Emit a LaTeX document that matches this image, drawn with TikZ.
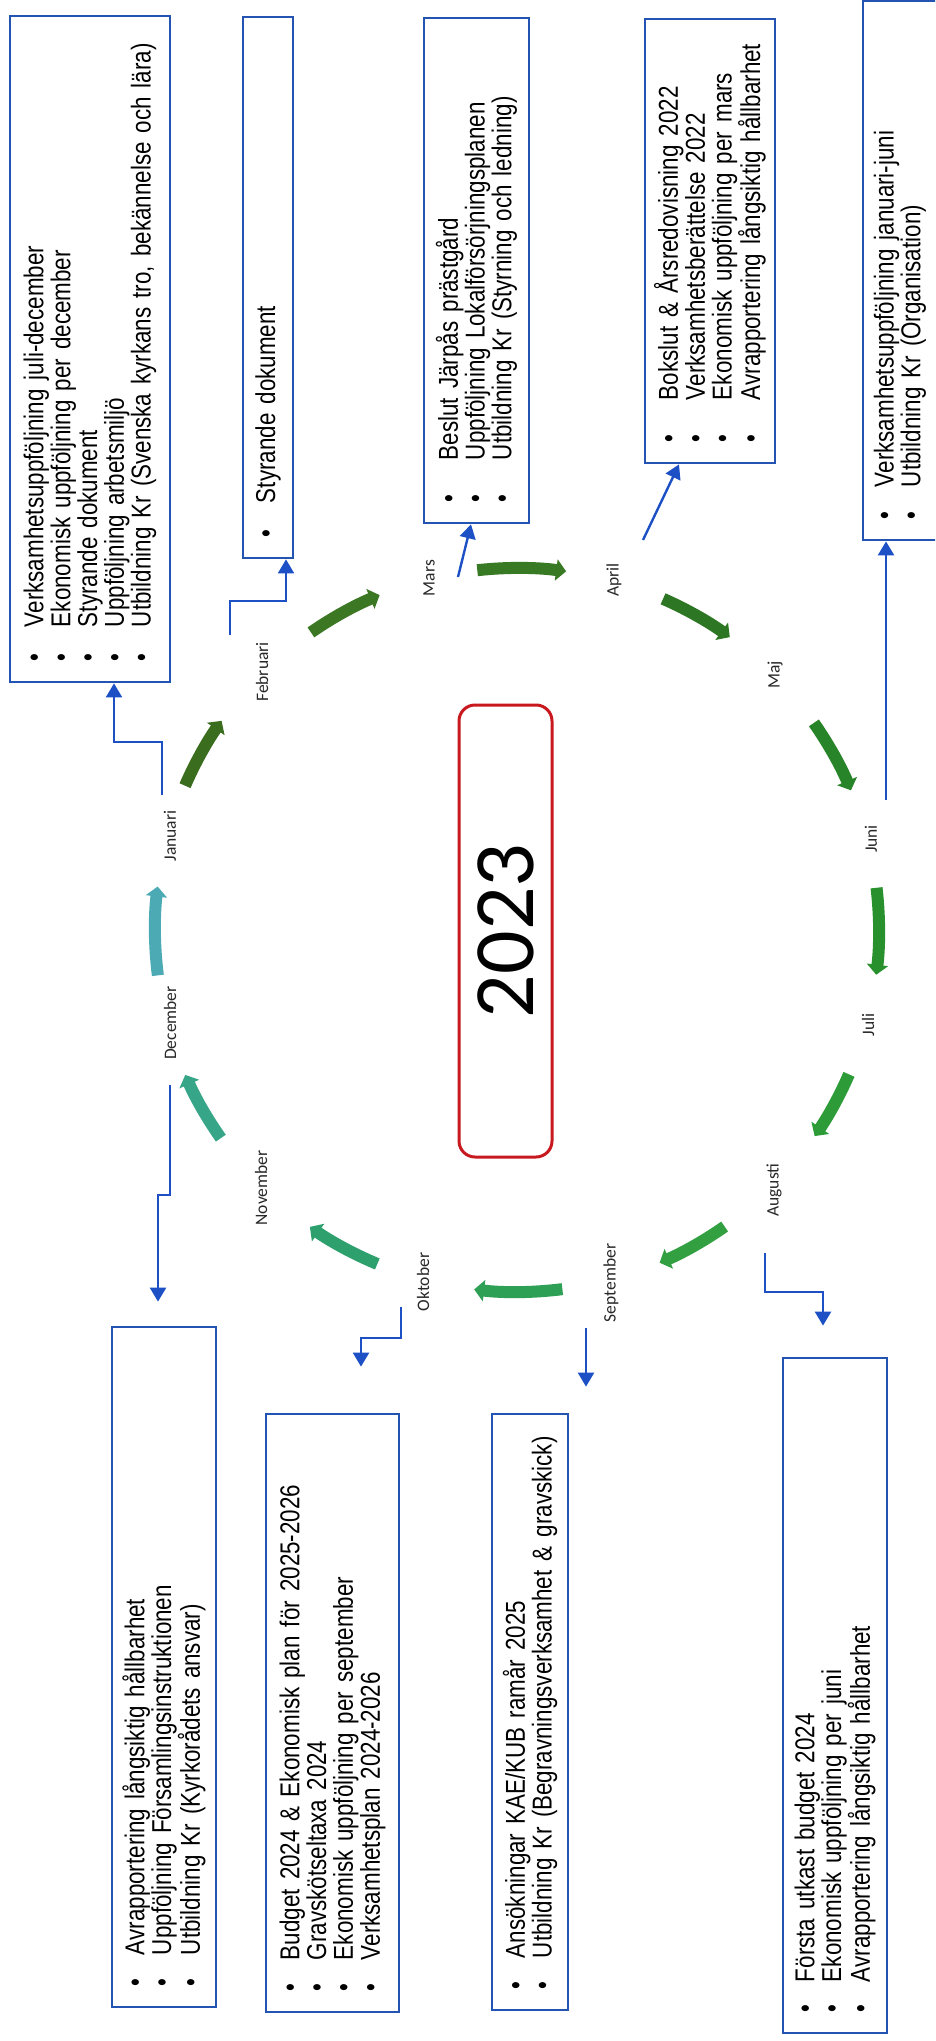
\documentclass[tikz,border=0pt]{standalone}
\usepackage{fontspec}
\setmainfont{Liberation Sans}
\newfontfamily\narrowfont{Liberation Sans}[FakeStretch=0.82]
\newfontfamily\calfont{Carlito}
\usetikzlibrary{arrows.meta}
\definecolor{boxblue}{RGB}{36,84,178}
\definecolor{linkblue}{RGB}{28,80,196}
\definecolor{boxred}{RGB}{200,25,30}
\definecolor{labelgray}{RGB}{40,40,40}
\definecolor{ga}{RGB}{58,110,30}
\definecolor{gb}{RGB}{60,120,35}
\definecolor{gc}{RGB}{55,122,35}
\definecolor{gd}{RGB}{45,118,35}
\definecolor{ge}{RGB}{40,132,40}
\definecolor{gf}{RGB}{40,145,45}
\definecolor{gg}{RGB}{45,155,55}
\definecolor{gh}{RGB}{50,160,65}
\definecolor{gi}{RGB}{45,160,85}
\definecolor{gj}{RGB}{45,160,110}
\definecolor{gk}{RGB}{55,165,135}
\definecolor{gl}{RGB}{75,170,180}
\newcommand\myline[2]{\mbox{\makebox[#1][l]{\textbullet}#2}}
\newcommand\boxfont{\narrowfont\fontsize{27.3}{26.8}\selectfont\fontdimen2\font=6.2pt\relax}
\tikzset{
  infobox/.style={draw=boxblue, line width=2.8pt, rotate=90, inner xsep=21pt, inner ysep=0pt,
    align=left, font=\boxfont},
  month/.style={rotate=90, text=labelgray, font=\calfont\fontsize{17.5}{20}\selectfont, inner sep=0pt},
  conn/.style={draw=linkblue, line width=2.4pt, -{Triangle[width=16pt,length=14pt]}},
  ring/.style={line width=12pt, -{Triangle[width=21pt,length=10pt]}},
}
\begin{document}
\begin{tikzpicture}[x=1pt,y=1pt]
\clip (0,0) rectangle (935,-2041);
\fill[white] (0,0) rectangle (935,-2041);

% information boxes
\node[infobox, minimum width=666pt, minimum height=160pt, text width=624pt] (A) at (90,-349) {%
\myline{34pt}{Verksamhetsuppföljning juli-december}\\
\myline{34pt}{Ekonomisk uppföljning per december}\\
\myline{34pt}{Styrande dokument}\\
\myline{34pt}{Uppföljning arbetsmiljö}\\
\myline{34pt}{Utbildning Kr (Svenska kyrkans tro, bekännelse och lära)}};

\node[infobox, minimum width=541pt, minimum height=50pt, text width=499pt] (B) at (268,-287.5) {%
\myline{34pt}{Styrande dokument}};

\node[infobox, minimum width=505pt, minimum height=105pt, text width=463pt] (C) at (476.5,-270.5) {%
\myline{42pt}{Beslut Järpås prästgård}\\
\myline{42pt}{Uppföljning Lokalförsörjningsplanen}\\
\myline{42pt}{Utbildning Kr (Styrning och ledning)}};

\node[infobox, minimum width=444pt, minimum height=130pt, text width=402pt] (D) at (710,-241) {%
\myline{42pt}{Bokslut \& Årsredovisning 2022}\\
\myline{42pt}{Verksamhetsberättelse 2022}\\
\myline{42pt}{Ekonomisk uppföljning per mars}\\
\myline{42pt}{Avrapportering långsiktig hållbarhet}};

\node[infobox, minimum width=539pt, minimum height=74pt, text width=497pt] (E) at (900,-270.5) {%
\myline{32pt}{Verksamhetsuppföljning januari-juni}\\
\myline{32pt}{Utbildning Kr (Organisation)}};

\node[infobox, minimum width=680pt, minimum height=104pt, text width=638pt] (F) at (164,-1667) {%
\myline{31pt}{Avrapportering långsiktig hållbarhet}\\
\myline{31pt}{Uppföljning Församlingsinstruktionen}\\
\myline{31pt}{Utbildning Kr (Kyrkorådets ansvar)}};

\node[infobox, minimum width=598pt, minimum height=133pt, text width=556pt] (H) at (332.5,-1713) {%
\myline{31pt}{Budget 2024 \& Ekonomisk plan för 2025-2026}\\
\myline{31pt}{Gravskötseltaxa 2024}\\
\myline{31pt}{Ekonomisk uppföljning per september}\\
\myline{31pt}{Verksamhetsplan 2024-2026}};

\node[infobox, minimum width=596pt, minimum height=76pt, text width=554pt] (I) at (530,-1712) {%
\myline{31pt}{Ansökningar KAE/KUB ramår 2025}\\
\myline{31pt}{Utbildning Kr (Begravningsverksamhet \& gravskick)}};

\node[infobox, minimum width=675pt, minimum height=104pt, text width=633pt] (G) at (835,-1695.5) {%
\myline{30pt}{Första utkast budget 2024}\\
\myline{30pt}{Ekonomisk uppföljning per juni}\\
\myline{30pt}{Avrapportering långsiktig hållbarhet}};

% year box
\node[draw=boxred, line width=3pt, rounded corners=16pt, rotate=90, minimum width=452pt,
  minimum height=93pt, inner sep=0pt, font=\calfont\fontsize{86}{86}\selectfont] (Y) at (505.5,-931) {2023};

% month labels
\node[month] (mJan) at (170,-836) {Januari};
\node[month] (mFeb) at (262,-672) {Februari};
\node[month] (mMar) at (429,-578) {Mars};
\node[month] (mApr) at (614,-580) {April};
\node[month] (mMaj) at (775,-675) {Maj};
\node[month] (mJun) at (871,-839) {Juni};
\node[month] (mJul) at (868,-1025) {Juli};
\node[month] (mAug) at (774,-1190) {Augusti};
\node[month] (mSep) at (611,-1283) {September};
\node[month] (mOkt) at (423,-1282) {Oktober};
\node[month] (mNov) at (261,-1188) {November};
\node[month] (mDec) at (170,-1023) {December};

% ring of month arrows
\foreach \s/\e/\c in {156.5/144.7/ga, 124.7/112.3/gb, 96.3/82.2/gc, 66.2/54/gd,
  34.9/22.7/ge, 6.7/-7.1/gf, -23.5/-34.7/gg, -55/-66.8/gh, -82.8/-96.8/gi,
  -112.7/-124.9/gj, -144.9/-156.4/gk, -172.8/-186.9/gl}
  \draw[ring, color=\c] ([shift={(517,-930)}]\s:362) arc[start angle=\s, end angle=\e, radius=362];

% connectors
\coordinate (jan0) at (162,-795);
\coordinate (jan1) at (114,-742);
\draw[conn] (jan0) |- (jan1) -- (jan1 |- A.west);

\coordinate (feb0) at (230,-635);
\coordinate (feb1) at (286,-601);
\draw[conn] (feb0) |- (feb1) -- (feb1 |- B.west);

\coordinate (mar0) at (458,-577);
\coordinate (mar1) at (471,0);
\draw[conn] (mar0) -- (mar1 |- C.west);

\coordinate (apr0) at (643,-540);
\coordinate (apr1) at (679,0);
\draw[conn] (apr0) -- (apr1 |- D.west);

\coordinate (jun0) at (886,-800);
\draw[conn] (jun0) -- (jun0 |- E.west);

\coordinate (dec0) at (170,-1085);
\coordinate (dec1) at (158,-1195);
\draw[conn, shorten >=24pt] (dec0) |- (dec1) -- (dec1 |- F.east);

\coordinate (okt0) at (401,-1307);
\coordinate (okt1) at (361,-1338);
\draw[conn, shorten >=46pt] (okt0) |- (okt1) -- (okt1 |- H.east);

\coordinate (sep0) at (586,-1328);
\draw[conn, shorten >=26pt] (sep0) -- (sep0 |- I.east);

\coordinate (aug0) at (765,-1253);
\coordinate (aug1) at (823,-1292);
\draw[conn, shorten >=31pt] (aug0) |- (aug1) -- (aug1 |- G.east);
\end{tikzpicture}
\end{document}
